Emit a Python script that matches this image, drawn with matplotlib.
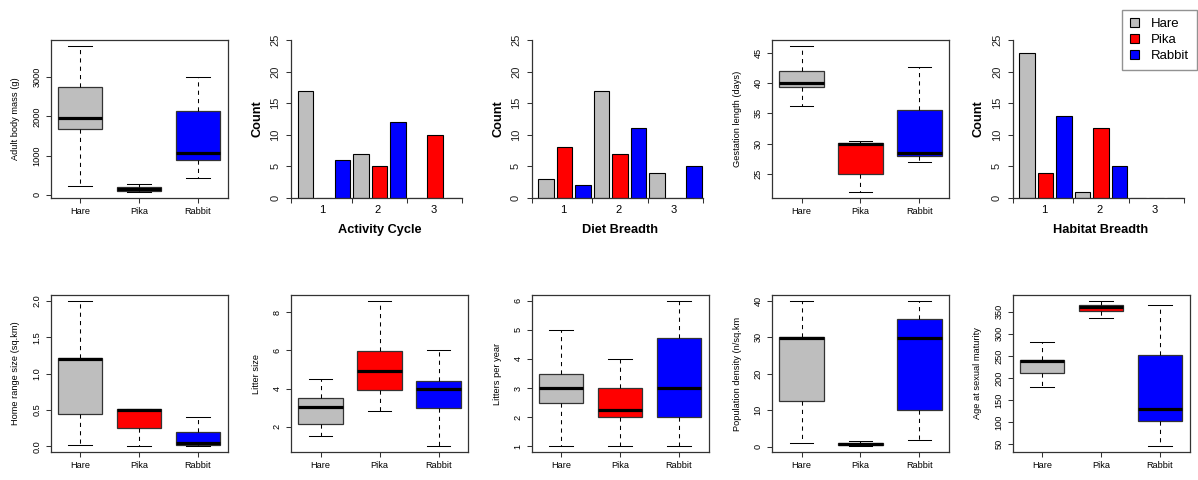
import numpy as np
import matplotlib
matplotlib.use("Agg")
from matplotlib import pyplot as plt
from matplotlib.patches import Patch

plt.rcParams["font.family"] = ["Liberation Sans", "DejaVu Sans"]

species = ["Hare", "Pika", "Rabbit"]
colors = ["#BEBEBE", "#FF0000", "#0000FF"]

# boxplot summaries per species: [whisker low, q1, median, q3, whisker high]
body_mass = [[230, 1675, 1950, 2750, 3800], [70, 105, 160, 210, 270], [435, 890, 1080, 2150, 3000]]
gestation = [[36.2, 39.3, 40.0, 42.0, 46.1], [22.0, 25.0, 29.9, 30.1, 30.4], [27.0, 28.0, 28.5, 35.6, 42.6]]
home_range = [[0.01, 0.44, 1.2, 1.21, 2.0], [0.0, 0.25, 0.5, 0.51, 0.51], [0.0, 0.01, 0.04, 0.2, 0.4]]
litter_size = [[1.5, 2.15, 3.03, 3.5, 4.5], [2.85, 3.95, 4.92, 5.95, 8.6], [0.98, 3.0, 4.0, 4.42, 6.0]]
litters_year = [[1, 2.5, 3, 3.5, 5], [1, 2, 2.25, 3, 4], [1, 2, 3, 4.72, 6]]
pop_density = [[1.1, 12.5, 29.9, 30.1, 40], [0.1, 0.3, 0.7, 1.1, 1.4], [1.8, 10, 29.8, 35.1, 40]]
age_maturity = [[180, 211, 238, 240, 282], [336, 351, 362, 366, 375], [45, 102, 130, 252, 365]]

# counts per species (rows) for categories 1, 2, 3
categories = ["1", "2", "3"]
activity_cycle = [[17, 7, 0], [0, 5, 10], [6, 12, 0]]
diet_breadth = [[3, 17, 4], [8, 7, 0], [2, 11, 5]]
habitat_breadth = [[23, 1, 0], [4, 11, 0], [13, 5, 0]]

W, H = 1198, 480
fig = plt.figure(figsize=(W / 100, H / 100), dpi=100)
AX_COL = "#333333"


def panel(col, row):
  left = 50.5 + 240.5 * col
  if row == 0:
    top, h = 40, 158
  else:
    top, h = 295, 157
  ax = fig.add_axes([left / W, 1 - (top + h) / H, 177 / W, h / H])
  return ax, left, top, h


def box_panel(col, row, stats, ylabel, yticks, yfmt="{:g}"):
  ax, left, top, h = panel(col, row)
  bs = [dict(whislo=s[0], q1=s[1], med=s[2], q3=s[3], whishi=s[4], fliers=[]) for s in stats]
  res = ax.bxp(bs, positions=[1, 2, 3], widths=0.75, capwidths=0.4, patch_artist=True,
               showfliers=False,
               boxprops=dict(edgecolor=AX_COL, linewidth=0.9),
               whiskerprops=dict(color="black", linestyle=(0, (4, 4)), linewidth=0.75),
               capprops=dict(color="black", linewidth=0.75),
               medianprops=dict(color="black", linewidth=2.3))
  for patch, c in zip(res["boxes"], colors):
    patch.set_facecolor(c)
  lo = min(s[0] for s in stats)
  hi = max(s[4] for s in stats)
  pad = 0.04 * (hi - lo)
  ax.set_ylim(lo - pad, hi + pad)
  ax.set_xlim(0.5, 3.5)
  ax.set_xticks([1, 2, 3], species)
  ax.set_yticks(yticks, [yfmt.format(t) for t in yticks])
  for sp in ax.spines.values():
    sp.set_color(AX_COL)
    sp.set_linewidth(0.9)
  ax.tick_params(direction="out", length=3.6, width=0.75, colors=AX_COL, labelcolor="black", labelsize=6.6)
  ax.tick_params(axis="x", pad=3)
  ax.tick_params(axis="y", labelrotation=90, pad=3)
  for lbl in ax.get_yticklabels():
    lbl.set_va("center")
  fig.text((left - 34.5) / W, 1 - (top + h / 2) / H, ylabel, rotation=90, ha="center", va="center",
           fontsize=6.7)
  return ax


def bar_panel(col, row, counts, xlabel):
  ax, left, top, h = panel(col, row)
  n = len(species)
  for s in range(n):
    for g in range(len(categories)):
      i = g * n + s
      ax.bar(0.2 + 1.2 * i + 0.5, counts[s][g], width=1.0, color=colors[s],
             edgecolor="black", linewidth=0.8)
  ax.set_xlim(-0.224, 11.224)
  ax.set_ylim(0, 25)
  ax.spines["top"].set_visible(False)
  ax.spines["right"].set_visible(False)
  ax.spines["left"].set_bounds(0, 25)
  ax.spines["bottom"].set_bounds(-0.2, 10.85)
  for sp in ("left", "bottom"):
    ax.spines[sp].set_color(AX_COL)
    ax.spines[sp].set_linewidth(0.9)
  ax.set_xticks([-0.2, 3.7, 7.3, 10.85], ["", "", "", ""])
  ax.set_xticks([1.8, 5.4, 9.0], categories, minor=True)
  ax.set_yticks([0, 5, 10, 15, 20, 25])
  ax.tick_params(direction="out", length=3.6, width=0.75, colors=AX_COL, labelcolor="#222222", labelsize=8)
  ax.tick_params(axis="x", which="minor", length=0, pad=5, labelsize=8)
  ax.tick_params(axis="y", labelrotation=90, pad=4)
  for lbl in ax.get_yticklabels():
    lbl.set_va("center")
  fig.text((left - 33.5) / W, 1 - (top + h / 2) / H, "Count", rotation=90, ha="center", va="center",
           fontsize=9.2, fontweight="bold")
  fig.text((left + 88.5) / W, 1 - 230 / H, xlabel, ha="center", va="center",
           fontsize=9.2, fontweight="bold")
  return ax


box_panel(0, 0, body_mass, "Adult body mass (g)", [0, 1000, 2000, 3000])
bar_panel(1, 0, activity_cycle, "Activity Cycle")
bar_panel(2, 0, diet_breadth, "Diet Breadth")
box_panel(3, 0, gestation, "Gestation length (days)", [25, 30, 35, 40, 45])
bar_panel(4, 0, habitat_breadth, "Habitat Breadth")

box_panel(0, 1, home_range, "Home range size (sq.km)", [0.0, 0.5, 1.0, 1.5, 2.0], "{:.1f}")
box_panel(1, 1, litter_size, "Litter size", [2, 4, 6, 8])
box_panel(2, 1, litters_year, "Litters per year", [1, 2, 3, 4, 5, 6])
box_panel(3, 1, pop_density, "Population density (n/sq.km", [0, 10, 20, 30, 40])
box_panel(4, 1, age_maturity, "Age at sexual maturity", [50, 100, 150, 200, 250, 300, 350])

handles = [Patch(facecolor=c, edgecolor="black", linewidth=0.8) for c in colors]
leg = fig.legend(handles, species, loc="upper right", bbox_to_anchor=(1196.5 / W, 1 - 10 / H),
                 bbox_transform=fig.transFigure, borderaxespad=0, fancybox=False,
                 edgecolor="#777777", fontsize=9.5, handlelength=0.65, handleheight=0.65,
                 handletextpad=0.9, labelspacing=0.3, borderpad=0.6)
leg.get_frame().set_linewidth(1.0)

fig.savefig("out.png", dpi=100)
